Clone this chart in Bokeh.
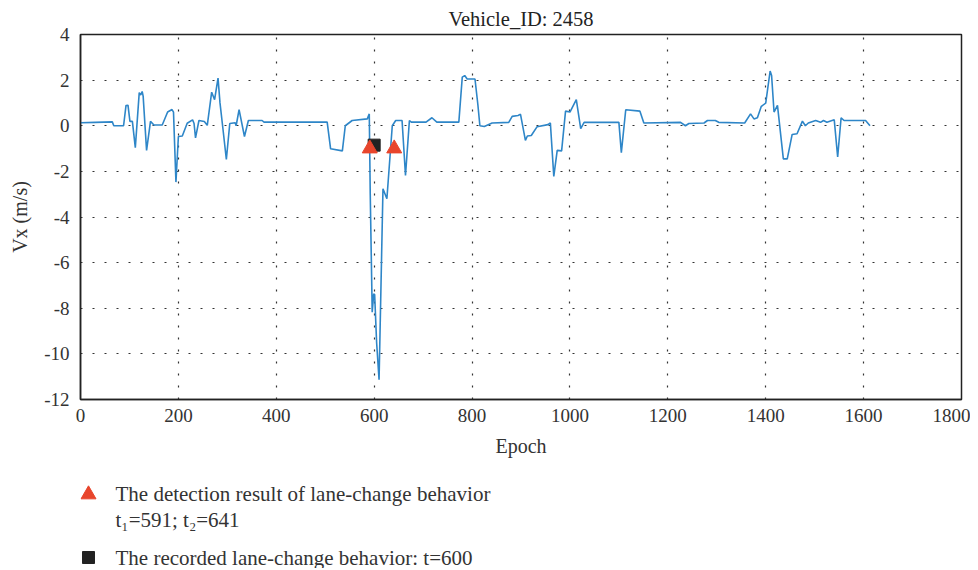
from bokeh.plotting import figure
from bokeh.layouts import column
from bokeh.models import Range1d, FixedTicker
from bokeh.core.properties import value
from bokeh.embed import file_html
from bokeh.resources import INLINE

FONT = "Liberation Serif"

epoch = [0, 30, 65, 68, 88, 93, 97, 101, 106, 112, 120, 123, 126, 128, 135, 143, 150, 167,
         178, 187, 190, 195, 200, 208, 218, 229, 232, 235, 242, 253, 259, 268, 274, 281,
         285, 291, 298, 305, 316, 318, 324, 335, 343, 371, 375, 504, 511, 535, 541, 555,
         586, 590, 592, 596, 599, 601, 605, 610, 618, 626, 637, 644, 657, 664, 672, 676,
         706, 718, 728, 773, 780, 785, 790, 806, 812, 816, 825, 841, 875, 882, 894, 899,
         909, 913, 921, 933, 955, 960, 967, 974, 983, 991, 1000, 1013, 1022, 1029, 1100,
         1105, 1114, 1143, 1151, 1226, 1236, 1243, 1274, 1281, 1297, 1304, 1357, 1369,
         1376, 1383, 1391, 1400, 1409, 1412, 1417, 1424, 1436, 1444, 1454, 1464, 1475,
         1481, 1487, 1502, 1512, 1518, 1525, 1540, 1547, 1554, 1560, 1604, 1613]
vx = [0.13, 0.15, 0.17, 0.0, 0.0, 0.89, 0.9, 0.19, 0.19, -0.96, 1.45, 1.35, 1.5, 1.3, -1.08,
      0.19, 0.03, 0.03, 0.6, 0.71, 0.6, -2.47, -0.47, -0.45, 0.11, 0.26, 0.1, -0.53, 0.23,
      0.19, 0.02, 1.47, 1.14, 2.09, 1.0, -0.13, -1.48, 0.1, 0.13, 0.0, 0.71, -0.47, 0.23,
      0.23, 0.16, 0.16, -1.01, -1.1, 0.0, 0.23, 0.3, 0.52, -3.0, -8.17, -7.37, -7.4, -9.5,
      -11.13, -2.76, -3.2, 0.0, 0.23, 0.23, -2.18, 0.23, 0.16, 0.16, 0.35, 0.16, 0.16, 2.13,
      2.2, 2.05, 2.05, 0.9, 0.0, -0.03, 0.12, 0.15, 0.41, 0.45, 0.5, -0.64, -0.45, -0.43,
      -0.04, 0.05, 0.12, -2.22, -1.08, -1.1, 0.64, 0.6, 1.15, -0.13, 0.15, 0.15, -1.18, 0.7,
      0.64, 0.12, 0.15, 0.0, 0.1, 0.12, 0.23, 0.23, 0.15, 0.12, 0.52, 0.3, 0.35, 0.85, 0.99,
      2.4, 2.2, 0.6, 0.89, -1.45, -1.45, -0.38, -0.35, 0.2, 0.0, 0.12, 0.23, 0.15, 0.23,
      0.15, 0.26, -1.37, 0.35, 0.23, 0.23, 0.0]

detect_t = [591, 641]
detect_v = [-1.0, -1.0]
record_t = [600]
record_v = [-0.85]

x_ticks = [0, 200, 400, 600, 800, 1000, 1200, 1400, 1600, 1800]
y_ticks = [-12, -10, -8, -6, -4, -2, 0, 2, 4]

title_text = "Vehicle_ID: 2458"
x_label = "Epoch"
y_label = "Vx (m/s)"
legend_texts = ["The detection result of lane-change behavior",
                "t\u2081=591; t\u2082=641",
                "The recorded lane-change behavior: t=600"]

LINE_COLOR = "#2e86c8"
TRI_COLOR = "#e8452c"
SQ_COLOR = "#222222"
TEXT_COLOR = "#333333"

W = 970
BL, BR = 80, 9
HM = 459

p = figure(width=W, height=HM, output_backend="svg", toolbar_location=None,
           x_range=Range1d(0, 1800), y_range=Range1d(-12, 4),
           min_border_left=BL, min_border_right=BR, min_border_top=34, min_border_bottom=60)
p.title.text = title_text
p.title.align = "center"
p.title.text_font = FONT
p.title.text_font_size = "20.5px"
p.title.text_font_style = "normal"
p.title.text_color = "#222222"
p.title.standoff = 10

p.line(epoch, vx, line_color=LINE_COLOR, line_width=1.6)
p.scatter(record_t, record_v, marker="square", size=12, fill_color=SQ_COLOR, line_color=SQ_COLOR)
p.scatter(detect_t, detect_v, marker="triangle", size=15, fill_color=TRI_COLOR, line_color=TRI_COLOR)

p.outline_line_color = "#222222"
p.outline_line_width = 1.5
for ax in (p.xaxis, p.yaxis):
    ax.major_tick_line_color = None
    ax.minor_tick_line_color = None
    ax.axis_line_color = "#222222"
    ax.axis_line_width = 1.5
    ax.major_label_text_font = FONT
    ax.major_label_text_font_size = "19px"
    ax.major_label_text_color = TEXT_COLOR
    ax.axis_label_text_font = FONT
    ax.axis_label_text_font_size = "20px"
    ax.axis_label_text_font_style = "normal"
    ax.axis_label_text_color = TEXT_COLOR
p.xaxis.ticker = FixedTicker(ticks=x_ticks)
p.yaxis.ticker = FixedTicker(ticks=y_ticks)
p.yaxis.major_label_overrides = {t: str(t) for t in y_ticks}
p.xaxis.axis_label = x_label
p.yaxis.axis_label = y_label
p.xaxis.major_label_standoff = 3
p.yaxis.major_label_standoff = 5
p.xaxis.axis_label_standoff = 10
p.yaxis.axis_label_standoff = 10

for g in (p.xgrid, p.ygrid):
    g.grid_line_color = "#333333"
    g.grid_line_dash = "2 10"
    g.grid_line_width = 1.2

# Legend panel below: same borders as the main plot so frames line up; 1 unit = 1 px
HL = 109
FW = W - BL - BR
leg = figure(width=W, height=HL, output_backend="svg", toolbar_location=None,
             x_range=Range1d(0, FW), y_range=Range1d(HL, 0),
             min_border_left=BL, min_border_right=BR, min_border_top=0, min_border_bottom=0)
leg.axis.visible = False
leg.grid.visible = False
leg.outline_line_color = None
leg.scatter([8], [35], marker="triangle", size=15, fill_color=TRI_COLOR, line_color=TRI_COLOR)
leg.scatter([8], [98], marker="square", size=12, fill_color=SQ_COLOR, line_color=SQ_COLOR)
leg.text([35, 35, 35], [34, 60, 98], text=legend_texts,
         text_font=value(FONT), text_font_size="21px", text_color=TEXT_COLOR,
         text_baseline="middle", text_align="left")

layout = column(p, leg, spacing=0)
open("out.html", "w").write(file_html(layout, INLINE))
